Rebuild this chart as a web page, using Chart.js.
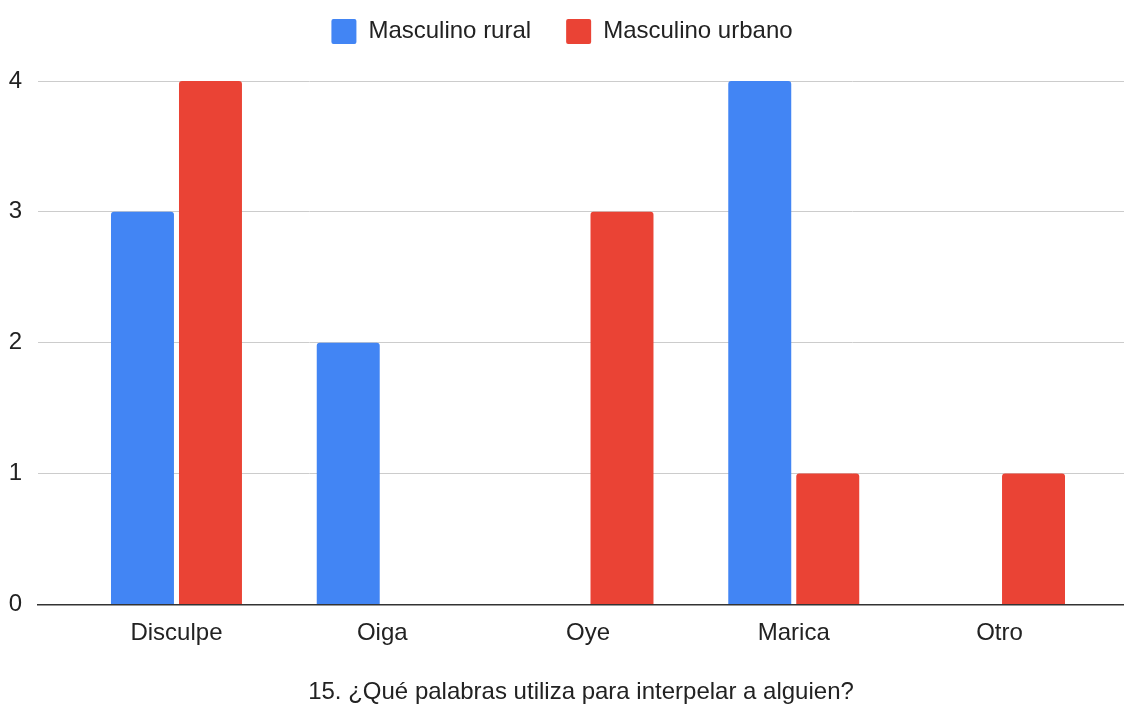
<!DOCTYPE html>
<html>
<head>
<meta charset="utf-8">
<script src="https://cdn.jsdelivr.net/npm/chart.js@4/dist/chart.umd.min.js"></script>
<style>
  html, body { margin: 0; padding: 0; background: #fff; }
  #wrap { width: 1124px; height: 704px; position: relative; }
</style>
</head>
<body>
<div id="wrap"><canvas id="c"></canvas></div>
<script>
const categories = ['Disculpe', 'Oiga', 'Oye', 'Marica', 'Otro'];
const seriesNames = ['Masculino rural', 'Masculino urbano'];
const ruralValues = [3, 2, 0, 4, 0];
const urbanValues = [4, 0, 3, 1, 1];
const yTicks = [0, 1, 2, 3, 4];
const xTitle = '15. ¿Qué palabras utiliza para interpelar a alguien?';

const FONT = "'Liberation Sans', Arial, sans-serif";
const BLUE = '#4285F4';
const RED = '#EA4335';

function toPoints(vals) { return vals.map((v, i) => ({ x: i, y: v })); }

new Chart(document.getElementById('c'), {
  type: 'bar',
  data: {
    datasets: [
      { label: seriesNames[0], data: toPoints(ruralValues), backgroundColor: BLUE, borderWidth: 0,
        borderRadius: { topLeft: 3, topRight: 3, bottomLeft: 0, bottomRight: 0 }, borderSkipped: false },
      { label: seriesNames[1], data: toPoints(urbanValues), backgroundColor: RED, borderWidth: 0,
        borderRadius: { topLeft: 3, topRight: 3, bottomLeft: 0, bottomRight: 0 }, borderSkipped: false }
    ]
  },
  options: {
    responsive: true,
    maintainAspectRatio: false,
    animation: false,
    categoryPercentage: 0.661,
    barPercentage: 0.926,
    layout: { padding: { top: -16, left: 0, right: 0, bottom: 0 } },
    plugins: {
      legend: {
        position: 'top',
        weight: 3000,
        labels: {
          font: { family: FONT, size: 24 },
          color: '#222',
          boxWidth: 25,
          boxHeight: 25,
          padding: 35,
          useBorderRadius: true,
          borderRadius: 2
        }
      },
      subtitle: {
        display: true,
        text: '',
        position: 'top',
        weight: 1500,
        font: { size: 1 },
        padding: { top: 0, bottom: 25.8 }
      },
      tooltip: { enabled: false }
    },
    scales: {
      x: {
        type: 'linear',
        offset: false,
        min: -0.673,
        max: 4.605,
        afterBuildTicks: (s) => { s.ticks = s.ticks.filter(t => Number.isInteger(t.value) && t.value >= 0 && t.value < categories.length); },
        ticks: {
          stepSize: 1,
          autoSkip: false,
          maxRotation: 0,
          padding: 15,
          color: '#222',
          font: { family: FONT, size: 24 },
          callback: (v) => categories[v] ?? ''
        },
        grid: { display: false, drawTicks: false },
        border: { display: true, color: '#333', width: 1.5 },
        title: {
          display: true,
          text: xTitle,
          color: '#222',
          font: { family: FONT, size: 24, lineHeight: 1.0 },
          padding: { top: 16.8, bottom: 0 }
        }
      },
      y: {
        min: 0,
        max: 4,
        afterFit: (s) => { s.width = 38; },
        afterBuildTicks: (s) => { s.ticks = yTicks.map(v => ({ value: v })); },
        ticks: {
          stepSize: 1,
          padding: 16,
          color: '#222',
          font: { family: FONT, size: 24 }
        },
        grid: { color: '#cccccc', lineWidth: 1, drawTicks: false },
        border: { display: false }
      }
    }
  }
});
</script>
</body>
</html>
